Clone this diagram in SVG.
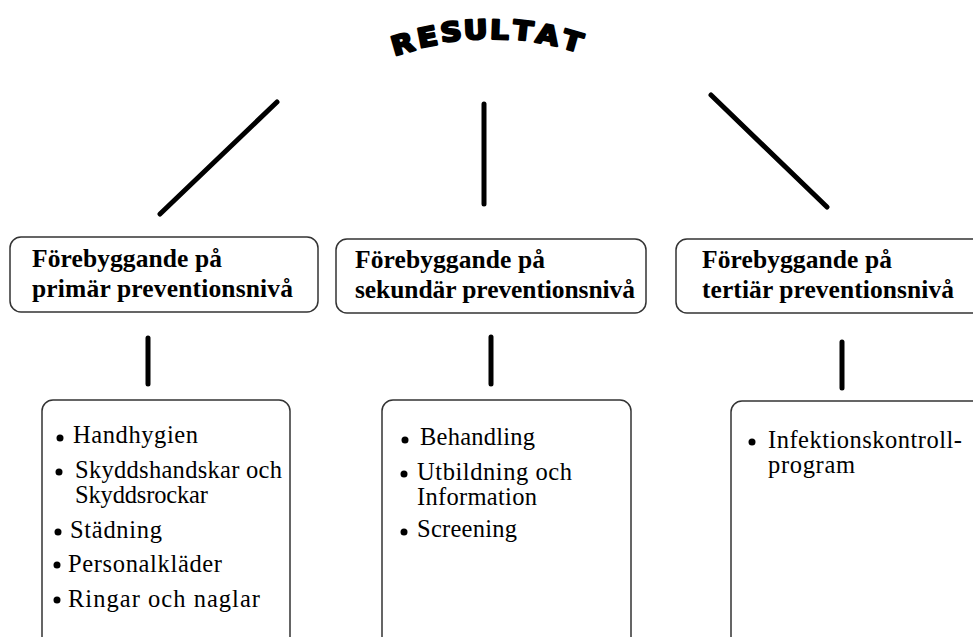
<svg xmlns="http://www.w3.org/2000/svg" width="973" height="637" viewBox="0 0 973 637">
<style>
.box{fill:#fff;stroke:#333;stroke-width:1.5}
.conn{stroke:#000;stroke-width:5;stroke-linecap:round;fill:none}
.hd{font-family:"Liberation Serif","Times New Roman",serif;font-weight:bold;font-size:25.5px;fill:#000}
.it{font-family:"Liberation Serif","Times New Roman",serif;font-size:24.5px;fill:#000}
.ttl{font-family:"DejaVu Sans","Liberation Sans",sans-serif;font-weight:bold;font-size:30px;fill:#000;stroke:#000;stroke-width:2.6;stroke-linejoin:round;text-anchor:middle}
</style>
<rect width="973" height="637" fill="#fff"/>
<g id="title">
<text class="ttl" transform="translate(405,53) rotate(-16) scale(0.98,0.88)">R</text>
<text class="ttl" transform="translate(429,46) rotate(-11) scale(0.98,0.88)">E</text>
<text class="ttl" transform="translate(452,41) rotate(-6.5) scale(0.98,0.88)">S</text>
<text class="ttl" transform="translate(476,39) rotate(-2.2) scale(0.98,0.88)">U</text>
<text class="ttl" transform="translate(499,39) rotate(2.2) scale(0.98,0.88)">L</text>
<text class="ttl" transform="translate(522,40) rotate(6.5) scale(0.98,0.88)">T</text>
<text class="ttl" transform="translate(546,44) rotate(11) scale(0.98,0.88)">A</text>
<text class="ttl" transform="translate(570,50) rotate(16) scale(0.98,0.88)">T</text>
</g>
<g id="connectors">
<line class="conn" x1="277" y1="102" x2="160" y2="214"/>
<line class="conn" x1="484" y1="104" x2="484" y2="204"/>
<line class="conn" x1="711" y1="95" x2="827" y2="207"/>
<line class="conn" x1="148" y1="338" x2="148" y2="384"/>
<line class="conn" x1="491" y1="337" x2="491" y2="384"/>
<line class="conn" x1="842" y1="342" x2="842" y2="388"/>
</g>
<g id="n1">
<rect class="box" x="10" y="237" width="308" height="75" rx="11"/>
<text class="hd" x="32" y="267" textLength="190" lengthAdjust="spacing">Förebyggande på</text>
<text class="hd" x="32" y="297" textLength="261" lengthAdjust="spacing">primär preventionsnivå</text>
</g>
<g id="n2">
<rect class="box" x="336" y="239" width="310" height="74" rx="11"/>
<text class="hd" x="355" y="268" textLength="190" lengthAdjust="spacing">Förebyggande på</text>
<text class="hd" x="355" y="298" textLength="280" lengthAdjust="spacing">sekundär preventionsnivå</text>
</g>
<g id="n3">
<rect class="box" x="676" y="239" width="310" height="74" rx="11"/>
<text class="hd" x="702" y="268" textLength="190" lengthAdjust="spacing">Förebyggande på</text>
<text class="hd" x="702" y="298" textLength="252" lengthAdjust="spacing">tertiär preventionsnivå</text>
</g>
<g id="n4">
<rect class="box" x="42" y="400" width="248" height="250" rx="11"/>
<circle cx="60" cy="438" r="3.5"/>
<text class="it" x="73" y="443" textLength="125" lengthAdjust="spacing">Handhygien</text>
<circle cx="59" cy="472" r="3.5"/>
<text class="it" x="75" y="478" textLength="207" lengthAdjust="spacing">Skyddshandskar och</text>
<text class="it" x="75" y="503" textLength="133" lengthAdjust="spacing">Skyddsrockar</text>
<circle cx="58" cy="532" r="3.5"/>
<text class="it" x="70" y="538" textLength="92" lengthAdjust="spacing">Städning</text>
<circle cx="57" cy="565" r="3.5"/>
<text class="it" x="68" y="572" textLength="154" lengthAdjust="spacing">Personalkläder</text>
<circle cx="57" cy="600" r="3.5"/>
<text class="it" x="68" y="607" textLength="192" lengthAdjust="spacing">Ringar och naglar</text>
</g>
<g id="n5">
<rect class="box" x="382" y="400" width="249" height="250" rx="11"/>
<circle cx="405" cy="440" r="3.5"/>
<text class="it" x="420" y="445" textLength="115" lengthAdjust="spacing">Behandling</text>
<circle cx="404" cy="474" r="3.5"/>
<text class="it" x="417" y="480" textLength="155" lengthAdjust="spacing">Utbildning och</text>
<text class="it" x="417" y="505" textLength="120" lengthAdjust="spacing">Information</text>
<circle cx="404" cy="532" r="3.5"/>
<text class="it" x="417" y="537" textLength="100" lengthAdjust="spacing">Screening</text>
</g>
<g id="n6">
<rect class="box" x="731" y="401" width="260" height="250" rx="11"/>
<circle cx="752" cy="442" r="3.5"/>
<text class="it" x="768" y="448" textLength="194" lengthAdjust="spacing">Infektionskontroll-</text>
<text class="it" x="768" y="473" textLength="87" lengthAdjust="spacing">program</text>
</g>
</svg>
